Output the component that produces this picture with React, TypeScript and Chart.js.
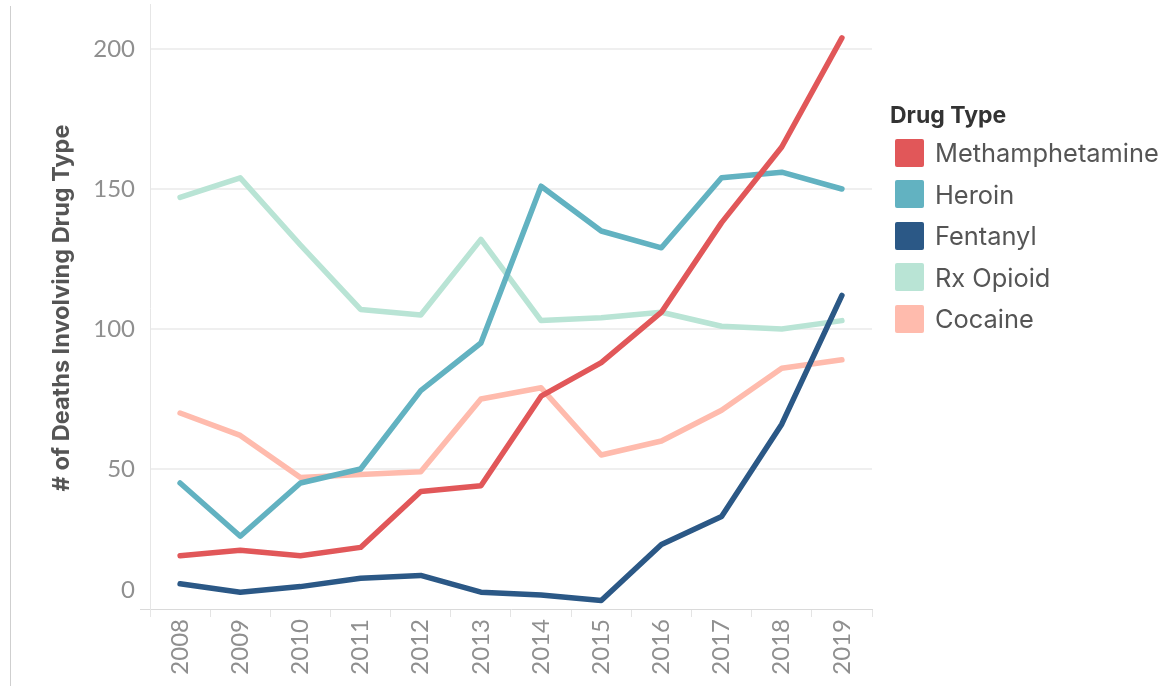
import React, { useEffect, useRef } from "react";
import { Chart, registerables } from "chart.js";

Chart.register(...registerables);

const years = ["2008", "2009", "2010", "2011", "2012", "2013", "2014", "2015", "2016", "2017", "2018", "2019"];
const methamphetamine = [19, 21, 19, 22, 42, 44, 76, 88, 106, 138, 165, 204];
const heroin = [45, 26, 45, 50, 78, 95, 151, 135, 129, 154, 156, 150];
const fentanyl = [9, 6, 8, 11, 12, 6, 5, 3, 23, 33, 66, 112];
const rxOpioid = [147, 154, 130, 107, 105, 132, 103, 104, 106, 101, 100, 103];
const cocaine = [70, 62, 47, 48, 49, 75, 79, 55, 60, 71, 86, 89];

const seriesNames = ["Methamphetamine", "Heroin", "Fentanyl", "Rx Opioid", "Cocaine"];
const seriesValues = [methamphetamine, heroin, fentanyl, rxOpioid, cocaine];
const seriesColors = ["#e15759", "#62b2c1", "#2b5886", "#b9e4d5", "#ffbbad"];

const yTicks = [0, 50, 100, 150, 200];
const yTitle = "# of Deaths Involving Drug Type";
const legendTitle = "Drug Type";

const FONT = "Lato, 'Open Sans', sans-serif";
const TFONT = "Inter, Lato, sans-serif";

const axisExtras = {
  id: "axisExtras",
  beforeDraw(chart: any) {
    const y = chart.scales.y;
    const items = y.getLabelItems();
    items.forEach((it: any) => {
      if (it.label === "0" && !it._shifted) {
        const t = it.options.translation;
        it.options.translation = [t[0], t[1] - 19];
        it._shifted = true;
      }
    });
  },
  afterDraw(chart: any) {
    const { ctx, chartArea } = chart;
    ctx.save();
    ctx.strokeStyle = "#dadada";
    ctx.lineWidth = 1;
    ctx.beginPath();
    ctx.moveTo(chartArea.left - 10, chartArea.bottom + 0.5);
    ctx.lineTo(chartArea.left, chartArea.bottom + 0.5);
    ctx.stroke();
    ctx.strokeStyle = "#e6e6e6";
    ctx.beginPath();
    ctx.moveTo(chartArea.left + 0.5, chartArea.bottom);
    ctx.lineTo(chartArea.left + 0.5, chartArea.bottom + 8);
    ctx.moveTo(chartArea.left + 0.5, chartArea.top);
    ctx.lineTo(chartArea.left + 0.5, chartArea.top - 3);
    ctx.stroke();
    ctx.restore();
  },
};

export default function App() {
  const ref = useRef<HTMLCanvasElement>(null);

  useEffect(() => {
    const canvas = ref.current;
    if (!canvas) return;
    const chart = new Chart(canvas, {
      type: "line",
      data: {
        labels: years,
        datasets: seriesNames.map((name, i) => ({
          label: name,
          data: seriesValues[i],
          borderColor: seriesColors[i],
          backgroundColor: seriesColors[i],
          borderWidth: 5.5,
          pointRadius: 0,
          pointHoverRadius: 0,
          tension: 0,
          borderJoinStyle: "round" as const,
          borderCapStyle: "round" as const,
          fill: false,
        })),
      },
      plugins: [axisExtras],
      options: {
        responsive: false,
        animation: false,
        events: [],
        layout: { padding: { left: 0, right: 290, top: 7, bottom: 0 } },
        plugins: { legend: { display: false }, tooltip: { enabled: false } },
        scales: {
          x: {
            type: "category",
            offset: true,
            grid: {
              offset: true,
              drawOnChartArea: false,
              drawTicks: true,
              tickLength: 8,
              color: "#e4e4e4",
              lineWidth: 1,
            },
            border: { display: true, color: "#dadada", width: 1 },
            ticks: {
              minRotation: 90,
              maxRotation: 90,
              autoSkip: false,
              padding: 2,
              color: "#8f8f8f",
              font: { family: FONT, size: 24 },
            },
            afterFit: (s: any) => {
              s.height = 77;
              s.paddingTop = 0;
              s.paddingBottom = 0;
            },
          },
          y: {
            type: "linear",
            min: 0,
            max: 215,
            afterBuildTicks: (s: any) => {
              s.ticks = yTicks.map((v) => ({ value: v }));
            },
            ticks: {
              stepSize: 50,
              includeBounds: false,
              padding: 15,
              color: "#8f8f8f",
              font: { family: FONT, size: 24 },
            },
            grid: {
              drawTicks: false,
              color: (ctx: any) => (ctx.tick && ctx.tick.value === 0 ? "rgba(0,0,0,0)" : "#efefef"),
              lineWidth: 2,
            },
            border: { display: true, color: "#e6e6e6", width: 1 },
            title: {
              display: true,
              text: yTitle,
              color: "#555555",
              font: { family: TFONT, size: 23.5, weight: "bold" },
              padding: { top: 48, bottom: 0 },
            },
            afterFit: (s: any) => {
              s.width = 150;
              s.paddingTop = 0;
              s.paddingBottom = 0;
            },
          },
        },
      },
    });
    return () => chart.destroy();
  }, []);

  return (
    <div style={{ position: "absolute", left: 0, top: 0, width: 1162, height: 686, background: "#fff", overflow: "hidden" }}>
      <div style={{ position: "absolute", left: 10, top: 6, width: 1, height: 680, background: "#cfcfcf" }} />
      <canvas ref={ref} width={1162} height={686} style={{ position: "absolute", left: 0, top: 0, display: "block" }} />
      <div style={{ position: "absolute", left: 890, top: 99, fontFamily: TFONT }}>
        <div style={{ fontSize: 23, fontWeight: "bold", color: "#333", height: 32, lineHeight: "32px" }}>{legendTitle}</div>
        <div style={{ marginTop: 1 }}>
          {seriesNames.map((name, i) => (
            <div key={name} style={{ display: "flex", alignItems: "center", height: 41.5 }}>
              <div style={{ width: 29, height: 28, marginLeft: 5, borderRadius: 2, background: seriesColors[i] }} />
              <div style={{ marginLeft: 11, fontSize: 25.4, color: "#555", whiteSpace: "nowrap" }}>{name}</div>
            </div>
          ))}
        </div>
      </div>
    </div>
  );
}
